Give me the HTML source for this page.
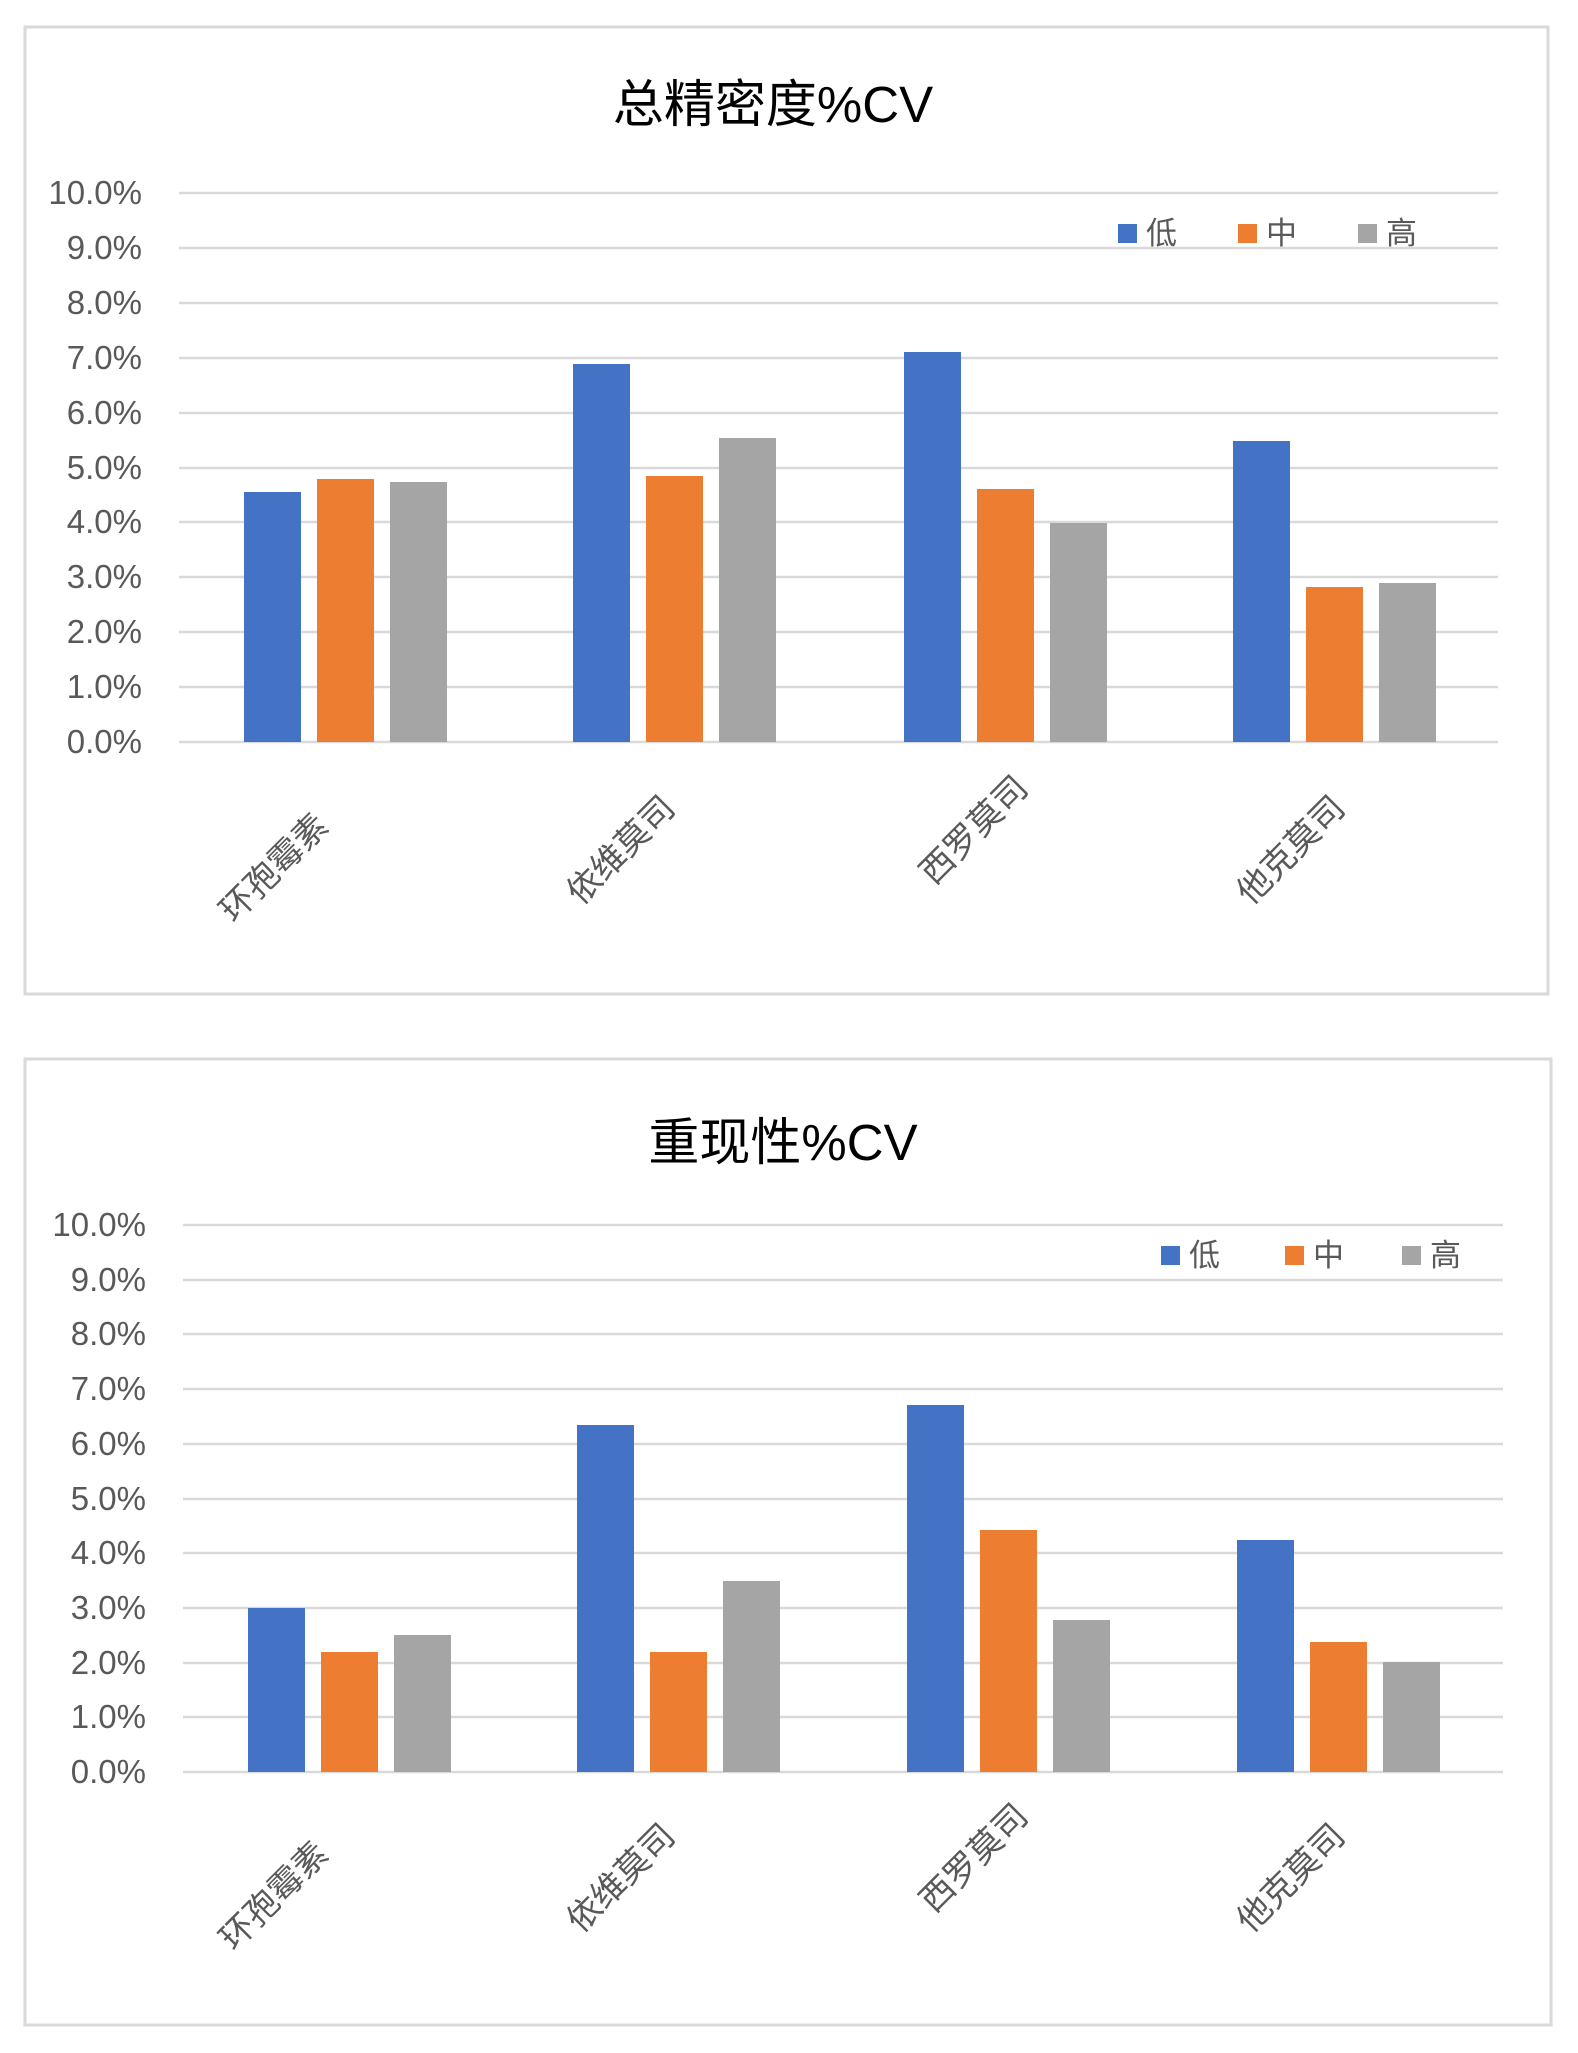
<!DOCTYPE html>
<html><head><meta charset="utf-8"><style>
body{margin:0;background:#fff;}
text{font-family:"Liberation Sans","Noto Sans CJK SC",sans-serif;}
</style></head><body>
<svg width="1578" height="2048" xmlns="http://www.w3.org/2000/svg">
<rect x="0" y="0" width="1578" height="2048" fill="#fff"/>
<g id="c1" transform="translate(0,2)">
<rect x="25" y="25" width="1523" height="967" fill="#fff" stroke="#d9d9d9" stroke-width="3"/>
<text x="773" y="120" font-size="51" text-anchor="middle" fill="#000">总精密度%CV</text>
<g stroke="#d9d9d9" stroke-width="2.5">
<line x1="179" x2="1498" y1="191" y2="191"/><line x1="179" x2="1498" y1="246" y2="246"/><line x1="179" x2="1498" y1="301" y2="301"/><line x1="179" x2="1498" y1="356" y2="356"/><line x1="179" x2="1498" y1="411" y2="411"/><line x1="179" x2="1498" y1="466" y2="466"/><line x1="179" x2="1498" y1="520" y2="520"/><line x1="179" x2="1498" y1="575" y2="575"/><line x1="179" x2="1498" y1="630" y2="630"/><line x1="179" x2="1498" y1="685" y2="685"/><line x1="179" x2="1498" y1="740" y2="740"/>
</g>
<g font-size="33" fill="#595959" text-anchor="end">
<text x="142" y="202">10.0%</text><text x="142" y="257">9.0%</text><text x="142" y="312">8.0%</text><text x="142" y="367">7.0%</text><text x="142" y="422">6.0%</text><text x="142" y="477">5.0%</text><text x="142" y="531">4.0%</text><text x="142" y="586">3.0%</text><text x="142" y="641">2.0%</text><text x="142" y="696">1.0%</text><text x="142" y="751">0.0%</text>
</g>
<g>
<rect x="244" y="490" width="57" height="250" fill="#4472c4"/><rect x="317" y="477" width="57" height="263" fill="#ed7d31"/><rect x="390" y="480" width="57" height="260" fill="#a5a5a5"/>
<rect x="573" y="362" width="57" height="378" fill="#4472c4"/><rect x="646" y="474" width="57" height="266" fill="#ed7d31"/><rect x="719" y="436" width="57" height="304" fill="#a5a5a5"/>
<rect x="904" y="350" width="57" height="390" fill="#4472c4"/><rect x="977" y="487" width="57" height="253" fill="#ed7d31"/><rect x="1050" y="521" width="57" height="219" fill="#a5a5a5"/>
<rect x="1233" y="439" width="57" height="301" fill="#4472c4"/><rect x="1306" y="585" width="57" height="155" fill="#ed7d31"/><rect x="1379" y="581" width="57" height="159" fill="#a5a5a5"/>
</g>
<g font-size="34" fill="#595959" text-anchor="end">
<text transform="translate(330,826) rotate(-45)">环孢霉素</text>
<text transform="translate(677,808) rotate(-45)">依维莫司</text>
<text transform="translate(1030,788) rotate(-45)">西罗莫司</text>
<text transform="translate(1347,808) rotate(-45)">他克莫司</text>
</g>
<g font-size="31" fill="#595959">
<rect x="1118" y="222" width="19" height="19" fill="#4472c4"/><text x="1146" y="242">低</text>
<rect x="1238" y="222" width="19" height="19" fill="#ed7d31"/><text x="1266" y="242">中</text>
<rect x="1358" y="222" width="19" height="19" fill="#a5a5a5"/><text x="1386" y="242">高</text>
</g>
</g>
<g id="c2" transform="translate(0,4)">
<rect x="25" y="1055" width="1526" height="966" fill="#fff" stroke="#d9d9d9" stroke-width="3"/>
<text x="783" y="1156" font-size="51" text-anchor="middle" fill="#000">重现性%CV</text>
<g stroke="#d9d9d9" stroke-width="2.5">
<line x1="183" x2="1503" y1="1221" y2="1221"/><line x1="183" x2="1503" y1="1276" y2="1276"/><line x1="183" x2="1503" y1="1330" y2="1330"/><line x1="183" x2="1503" y1="1385" y2="1385"/><line x1="183" x2="1503" y1="1440" y2="1440"/><line x1="183" x2="1503" y1="1495" y2="1495"/><line x1="183" x2="1503" y1="1549" y2="1549"/><line x1="183" x2="1503" y1="1604" y2="1604"/><line x1="183" x2="1503" y1="1659" y2="1659"/><line x1="183" x2="1503" y1="1713" y2="1713"/><line x1="183" x2="1503" y1="1768" y2="1768"/>
</g>
<g font-size="33" fill="#595959" text-anchor="end">
<text x="146" y="1232">10.0%</text><text x="146" y="1287">9.0%</text><text x="146" y="1341">8.0%</text><text x="146" y="1396">7.0%</text><text x="146" y="1451">6.0%</text><text x="146" y="1506">5.0%</text><text x="146" y="1560">4.0%</text><text x="146" y="1615">3.0%</text><text x="146" y="1670">2.0%</text><text x="146" y="1724">1.0%</text><text x="146" y="1779">0.0%</text>
</g>
<g>
<rect x="248" y="1604" width="57" height="164" fill="#4472c4"/><rect x="321" y="1648" width="57" height="120" fill="#ed7d31"/><rect x="394" y="1631" width="57" height="137" fill="#a5a5a5"/>
<rect x="577" y="1421" width="57" height="347" fill="#4472c4"/><rect x="650" y="1648" width="57" height="120" fill="#ed7d31"/><rect x="723" y="1577" width="57" height="191" fill="#a5a5a5"/>
<rect x="907" y="1401" width="57" height="367" fill="#4472c4"/><rect x="980" y="1526" width="57" height="242" fill="#ed7d31"/><rect x="1053" y="1616" width="57" height="152" fill="#a5a5a5"/>
<rect x="1237" y="1536" width="57" height="232" fill="#4472c4"/><rect x="1310" y="1638" width="57" height="130" fill="#ed7d31"/><rect x="1383" y="1658" width="57" height="110" fill="#a5a5a5"/>
</g>
<g font-size="34" fill="#595959" text-anchor="end">
<text transform="translate(330,1852) rotate(-45)">环孢霉素</text>
<text transform="translate(677,1834) rotate(-45)">依维莫司</text>
<text transform="translate(1030,1814) rotate(-45)">西罗莫司</text>
<text transform="translate(1347,1834) rotate(-45)">他克莫司</text>
</g>
<g font-size="31" fill="#595959">
<rect x="1161" y="1242" width="19" height="19" fill="#4472c4"/><text x="1189" y="1262">低</text>
<rect x="1285" y="1242" width="19" height="19" fill="#ed7d31"/><text x="1313" y="1262">中</text>
<rect x="1402" y="1242" width="19" height="19" fill="#a5a5a5"/><text x="1430" y="1262">高</text>
</g>
</g>
</svg>
</body></html>
